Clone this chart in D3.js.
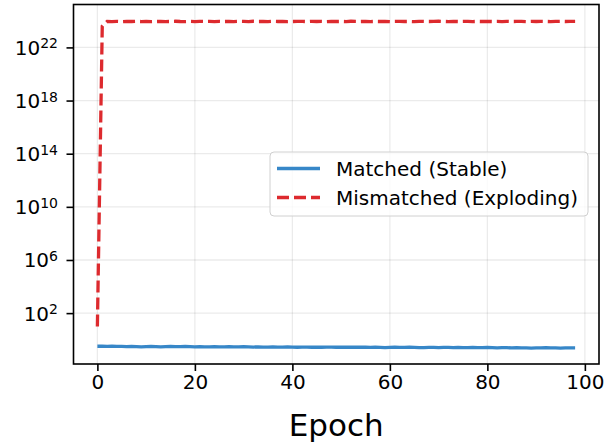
<!DOCTYPE html>
<html>
<head>
  <meta charset="utf-8">
  <title>Matched vs Mismatched</title>
  <script src="https://d3js.org/d3.v7.min.js"></script>
  <style>
    body { margin: 0; background: #fff; }
    text { font-family: "DejaVu Sans", sans-serif; fill: #000; }
  </style>
</head>
<body>
  <svg id="chart" width="606" height="444"></svg>

  <script>
    // valores (epoch 0..98)
    const matched = [
      0.32,0.32,0.31,0.32,0.31,0.31,0.30,0.31,0.30,0.29,
      0.30,0.31,0.30,0.29,0.30,0.31,0.30,0.30,0.31,0.30,
      0.29,0.30,0.29,0.29,0.30,0.29,0.29,0.30,0.29,0.29,
      0.30,0.29,0.28,0.29,0.28,0.28,0.29,0.28,0.28,0.29,
      0.28,0.27,0.28,0.28,0.27,0.28,0.27,0.28,0.28,0.27,
      0.28,0.27,0.27,0.28,0.27,0.27,0.26,0.27,0.26,0.25,
      0.26,0.27,0.26,0.26,0.27,0.26,0.25,0.25,0.26,0.26,
      0.25,0.26,0.26,0.25,0.26,0.25,0.25,0.26,0.25,0.25,
      0.26,0.25,0.24,0.25,0.25,0.24,0.25,0.24,0.24,0.23,
      0.24,0.24,0.25,0.24,0.24,0.23,0.24,0.24,0.24
    ];
    const mismatched = [
      10, 4.0e23, 9.0e23, 8.8e23, 9.1e23, 8.7e23, 9.0e23, 8.9e23, 9.2e23, 8.8e23,
      9.0e23, 8.6e23, 8.9e23, 9.1e23, 8.8e23, 9.0e23, 9.3e23, 8.9e23, 8.7e23, 9.0e23,
      8.8e23, 9.1e23, 8.9e23, 9.0e23, 8.7e23, 9.2e23, 8.9e23, 9.0e23, 8.8e23, 9.1e23,
      9.0e23, 8.7e23, 9.3e23, 8.9e23, 9.0e23, 8.8e23, 9.1e23, 8.9e23, 9.0e23, 8.6e23,
      8.9e23, 9.1e23, 9.0e23, 8.8e23, 9.2e23, 8.9e23, 9.0e23, 8.7e23, 9.1e23, 8.9e23,
      9.0e23, 8.8e23, 9.3e23, 9.0e23, 8.9e23, 9.1e23, 8.8e23, 9.0e23, 8.9e23, 9.2e23,
      8.8e23, 9.0e23, 9.1e23, 8.9e23, 9.0e23, 8.7e23, 9.2e23, 9.0e23, 8.9e23, 9.1e23,
      9.4e23, 9.0e23, 8.8e23, 9.1e23, 8.9e23, 9.0e23, 9.2e23, 8.8e23, 9.0e23, 8.9e23,
      9.1e23, 8.9e23, 9.0e23, 8.7e23, 9.2e23, 8.9e23, 9.0e23, 9.1e23, 8.8e23, 9.0e23,
      8.9e23, 9.1e23, 9.0e23, 8.8e23, 9.0e23, 9.1e23, 8.9e23, 9.0e23, 9.0e23
    ];
    const xTicks = [0, 20, 40, 60, 80, 100];
    const yTickExp = [2, 6, 10, 14, 18, 22];
    const seriesNames = ["Matched (Stable)", "Mismatched (Exploding)"];

    const width = 606, height = 444;
    const margin = { left: 73.5, right: 7, top: 4.5, bottom: 80 };
    const blue = "#3787c8", red = "#dd2a2e";

    const svg = d3.select("#chart");

    const x = d3.scaleLinear()
      .domain([-4.9, 102.9])
      .range([margin.left, width - margin.right]);

    const y = d3.scaleLog()
      .domain([Math.pow(10, -1.83), Math.pow(10, 25.23)])
      .range([height - margin.bottom, margin.top]);

    // grade
    const grid = svg.append("g").attr("stroke", "#000").attr("stroke-opacity", 0.08).attr("stroke-width", 1.3);
    grid.selectAll(".gx").data(xTicks).enter().append("line")
      .attr("x1", d => x(d)).attr("x2", d => x(d))
      .attr("y1", margin.top).attr("y2", height - margin.bottom);
    grid.selectAll(".gy").data(yTickExp).enter().append("line")
      .attr("x1", margin.left).attr("x2", width - margin.right)
      .attr("y1", d => y(Math.pow(10, d))).attr("y2", d => y(Math.pow(10, d)));

    const line = d3.line()
      .x((d, i) => x(i))
      .y(d => y(d));

    svg.append("path")
      .datum(matched)
      .attr("d", line)
      .attr("fill", "none")
      .attr("stroke", blue)
      .attr("stroke-width", 3.3);

    svg.append("path")
      .datum(mismatched)
      .attr("d", line)
      .attr("fill", "none")
      .attr("stroke", red)
      .attr("stroke-width", 3.3)
      .attr("stroke-dasharray", "12,5");

    // moldura
    svg.append("rect")
      .attr("x", margin.left).attr("y", margin.top)
      .attr("width", width - margin.left - margin.right)
      .attr("height", height - margin.top - margin.bottom)
      .attr("fill", "none").attr("stroke", "#000").attr("stroke-width", 1.6);

    // eixo x
    const xAxis = svg.append("g")
      .attr("transform", `translate(0,${height - margin.bottom})`)
      .call(d3.axisBottom(x).tickValues(xTicks).tickSize(7).tickPadding(4));
    xAxis.select(".domain").remove();
    xAxis.selectAll("line").attr("stroke-width", 1.6);
    xAxis.selectAll("text").style("font-size", "20px").attr("font-family", "DejaVu Sans");

    // eixo y
    const yAxis = svg.append("g")
      .attr("transform", `translate(${margin.left},0)`)
      .call(d3.axisLeft(y).tickValues(yTickExp.map(e => Math.pow(10, e))).tickSize(7).tickFormat(""));
    yAxis.select(".domain").remove();
    yAxis.selectAll("line").attr("stroke-width", 1.6);

    const yLab = svg.append("g");
    yTickExp.forEach(e => {
      const t = yLab.append("text")
        .attr("x", margin.left - 15.5)
        .attr("y", y(Math.pow(10, e)) + 7.5)
        .attr("text-anchor", "end")
        .style("font-size", "20px");
      t.append("tspan").text("10");
      t.append("tspan").attr("dy", -6.5).style("font-size", "14px").text(e);
    });

    svg.append("text")
      .attr("x", (margin.left + width - margin.right) / 2)
      .attr("y", 436)
      .attr("text-anchor", "middle")
      .style("font-size", "31px")
      .text("Epoch");

    // legenda
    const leg = svg.append("g").attr("transform", "translate(270,152)");
    leg.append("rect")
      .attr("width", 318).attr("height", 64).attr("rx", 4)
      .attr("fill", "#fff").attr("fill-opacity", 0.8)
      .attr("stroke", "#d0d0d0").attr("stroke-width", 1);
    const rows = leg.selectAll(".row").data(seriesNames).enter().append("g")
      .attr("transform", (d, i) => `translate(0,${16.5 + i * 29})`);
    rows.append("line")
      .attr("x1", 7).attr("x2", 50)
      .attr("stroke", (d, i) => i === 0 ? blue : red)
      .attr("stroke-width", 3.3)
      .attr("stroke-dasharray", (d, i) => i === 0 ? null : "12,5");
    rows.append("text")
      .attr("x", 66).attr("y", 7.3)
      .style("font-size", "20px")
      .text(d => d);
  </script>
</body>
</html>
